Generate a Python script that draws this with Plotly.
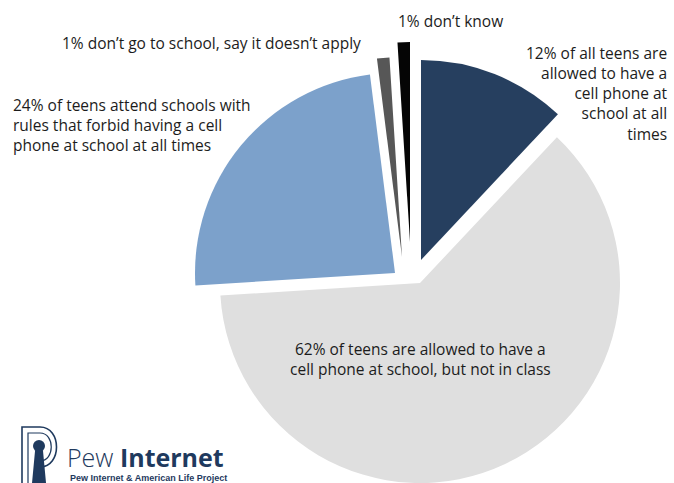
import plotly.graph_objects as go

# ---------------- data ----------------
categories = [
    "Allowed to have a cell phone at school at all times",
    "Allowed at school, but not in class",
    "Schools forbid cell phones at all times",
    "Don't go to school / doesn't apply",
    "Don't know",
]
values = [12, 62, 24, 1, 1]
label_texts = [
    "12% of all teens are<br>allowed to have a<br>cell phone at<br>school at all<br>times",
    "62% of teens are allowed to have a<br>cell phone at school, but not in class",
    "24% of teens attend schools with<br>rules that forbid having a cell<br>phone at school at all times",
    "1% don\u2019t go to school, say it doesn\u2019t apply",
    "1% don\u2019t know",
]
colors = ["#263F5F", "#DFDFDF", "#7CA1CB", "#575757", "#050505"]

# ---------------- layout constants ----------------
W, H = 674, 483
R = 200                      # pie radius in px
CX, CY = 412, 272            # pie centre in px (from top-left)
# exploded offset of each slice (px), like a manual "pull"
offsets = [(9, -12), (8, 11), (-17, 1), (-10, -15), (-2, -30)]

TEXT_FONT = dict(family="Open Sans", size=15.5, color="#1c1c1c")

# label placement: (anchor x px, block centre y px, xanchor)
label_pos = [
    (670, 93, "right"),
    (420, 359, "center"),
    (11, 125, "left"),
    (60, 43, "left"),
    (396, 21, "left"),
]


def clamp(v):
    return min(1.0, max(0.0, v))


def px(x):
    return x / W


def py(y):
    return 1 - y / H


fig = go.Figure()
for i, (dx, dy) in enumerate(offsets):
    ax, ay = CX + dx, CY + dy
    cols = ["rgba(0,0,0,0)"] * len(values)
    cols[i] = colors[i]
    fig.add_trace(go.Pie(
        labels=categories,
        values=values,
        sort=False,
        direction="clockwise",
        rotation=0,
        marker=dict(colors=cols, line=dict(width=0)),
        textinfo="none",
        hoverinfo="label+percent",
        showlegend=False,
        domain=dict(
            x=[clamp((ax - R) / W), clamp((ax + R) / W)],
            y=[clamp((H - ay - R) / H), clamp((H - ay + R) / H)],
        ),
    ))

annotations = []
for text, (x0, yc, xa) in zip(label_texts, label_pos):
    annotations.append(dict(
        text=text, x=px(x0), y=py(yc), xref="paper", yref="paper",
        xanchor=xa, yanchor="middle", align=xa, showarrow=False, font=TEXT_FONT,
    ))

LOGO = "#1F3A5E"
annotations += [
    dict(text="Pew <b>Internet</b>", x=px(65), y=py(457), xref="paper", yref="paper",
         xanchor="left", yanchor="middle", showarrow=False,
         font=dict(family="Open Sans", size=25, color=LOGO, weight=300)),
    dict(text="<b>Pew Internet & American Life Project</b>", x=px(68), y=py(478),
         xref="paper", yref="paper", xanchor="left", yanchor="middle", showarrow=False,
         font=dict(family="Liberation Sans", size=9, color=LOGO)),
]


def path_px(cmds):
    out = []
    for c in cmds:
        if isinstance(c, str):
            out.append(c)
        else:
            out.append(f"{px(c[0]):.5f},{py(c[1]):.5f}")
    return " ".join(out)


shapes = [
    # outer P outline
    dict(type="path", xref="paper", yref="paper",
         path=path_px(["M", (22, 483), "L", (22, 427), "L", (40, 427),
                       "C", (62, 427), (62, 467), (40, 467), "L", (36, 467)]),
         line=dict(color=LOGO, width=1.6), fillcolor="rgba(0,0,0,0)"),
    # inner P outline
    dict(type="path", xref="paper", yref="paper",
         path=path_px(["M", (28, 483), "L", (28, 433), "L", (40, 433),
                       "C", (55, 433), (55, 461), (40, 461)]),
         line=dict(color=LOGO, width=1.2), fillcolor="rgba(0,0,0,0)"),
    # figure head
    dict(type="circle", xref="paper", yref="paper",
         x0=px(33), x1=px(45), y0=py(452), y1=py(440),
         fillcolor=LOGO, line=dict(width=0)),
    # figure body
    dict(type="path", xref="paper", yref="paper",
         path=path_px(["M", (35, 451), "L", (43, 451), "L", (46, 483), "L", (32, 483), "Z"]),
         fillcolor=LOGO, line=dict(width=0)),
]

fig.update_layout(
    width=W, height=H,
    margin=dict(l=0, r=0, t=0, b=0),
    paper_bgcolor="white",
    plot_bgcolor="white",
    annotations=annotations,
    shapes=shapes,
)

fig.write_html("out.html")
